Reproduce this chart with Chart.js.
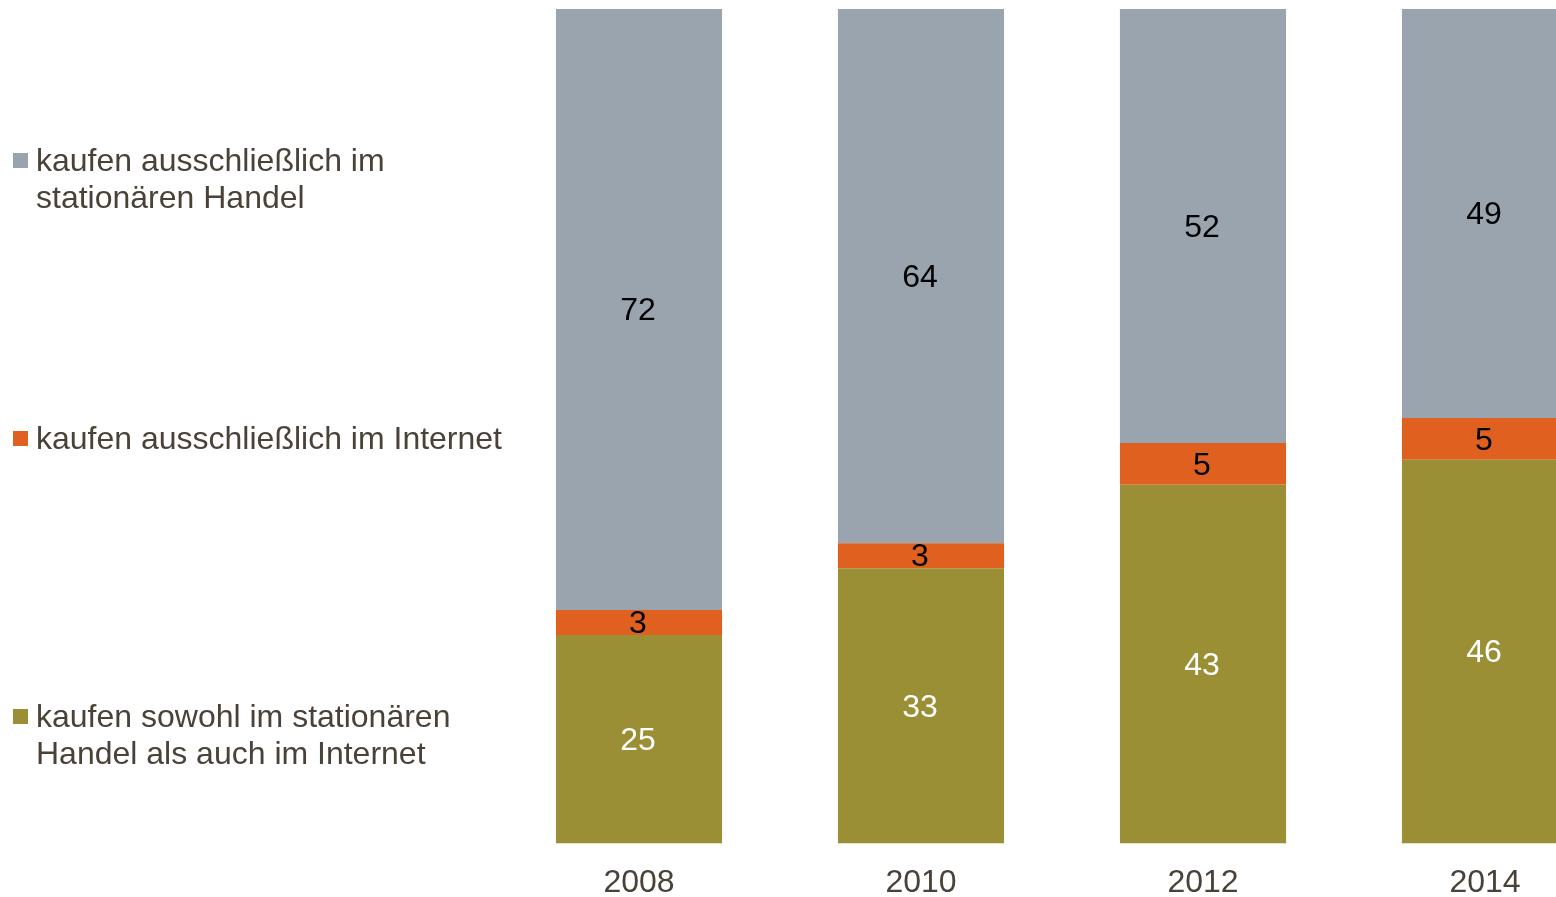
<!DOCTYPE html>
<html lang="de">
<head>
  <meta charset="UTF-8">
  <title>Einkaufsverhalten</title>
  <script src="https://cdn.jsdelivr.net/npm/chart.js"></script>
  <style>
    html, body { margin: 0; padding: 0; background: #fff; overflow: hidden; }
    body { width: 1556px; height: 897px; position: relative; font-family: "Liberation Sans", Arial, sans-serif; }
    #wrap { position: absolute; left: 0; top: 0; width: 1626px; height: 922px; }
    .leg { position: absolute; left: 36px; font-size: 32px; line-height: 37px; color: #4a4238; white-space: nowrap; }
    .leg i { position: absolute; left: -23px; top: 11px; width: 15px; height: 15px; }
  </style>
</head>
<body>
  <div id="wrap"><canvas id="chart" width="1626" height="922"></canvas></div>
  <div class="leg" style="top:142px"><i style="background:#9aa4ae"></i>kaufen ausschließlich im<br>stationären Handel</div>
  <div class="leg" style="top:420px"><i style="background:#e06020"></i>kaufen ausschließlich im Internet</div>
  <div class="leg" style="top:698px"><i style="background:#9b8f35"></i>kaufen sowohl im stationären<br>Handel als auch im Internet</div>

  <script>
    const years = ["2008", "2010", "2012", "2014"];
    const both = [25, 33, 43, 46];
    const onlineOnly = [3, 3, 5, 5];
    const storeOnly = [72, 64, 52, 49];

    // value labels in the middle of each segment
    const labelPlugin = {
      id: "segLabels",
      afterDatasetsDraw(chart) {
        const ctx = chart.ctx;
        ctx.save();
        ctx.font = '32px "Liberation Sans", Arial, sans-serif';
        ctx.textAlign = "center";
        ctx.textBaseline = "middle";
        chart.data.datasets.forEach((ds, i) => {
          chart.getDatasetMeta(i).data.forEach((bar, j) => {
            ctx.fillStyle = ds.labelColor;
            ctx.fillText(String(ds.data[j]), bar.x - 1, (bar.y + bar.base) / 2 + 2);
          });
        });
        ctx.restore();
      }
    };

    new Chart(document.getElementById("chart"), {
      type: "bar",
      data: {
        labels: years,
        datasets: [
          { label: "kaufen sowohl im stationären Handel als auch im Internet", data: both, backgroundColor: "#9b8f35", labelColor: "#ffffff" },
          { label: "kaufen ausschließlich im Internet", data: onlineOnly, backgroundColor: "#e06020", labelColor: "#000000" },
          { label: "kaufen ausschließlich im stationären Handel", data: storeOnly, backgroundColor: "#9aa4ae", labelColor: "#000000" }
        ]
      },
      options: {
        responsive: false,
        animation: false,
        datasets: { bar: { categoryPercentage: 1, barPercentage: 0.589, borderWidth: 0 } },
        layout: { padding: { left: 498, top: 9, right: 0, bottom: 0 } },
        plugins: { legend: { display: false }, tooltip: { enabled: false } },
        scales: {
          x: {
            stacked: true,
            grid: { display: false, drawTicks: false },
            border: { display: false },
            ticks: { color: "#4a4238", font: { size: 32, family: '"Liberation Sans", Arial, sans-serif' }, padding: 20 }
          },
          y: { stacked: true, min: 0, max: 100, display: false }
        }
      },
      plugins: [labelPlugin]
    });
  </script>
</body>
</html>
